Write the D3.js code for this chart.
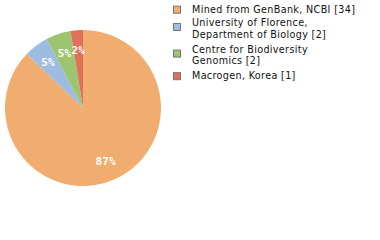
<!DOCTYPE html>
<html>
<head>
<meta charset="utf-8">
<script src="https://cdn.jsdelivr.net/npm/d3@7"></script>
<style>
    body { margin: 0; background: #fff; }
    svg { display: block; }
</style>
</head>
<body>
<div id="chart"></div>
<script>
(function()
{
    "use strict";

    // data
    var labels = [
        ["Mined from GenBank, NCBI [34]"],
        ["University of Florence,", "Department of Biology [2]"],
        ["Centre for Biodiversity", "Genomics [2]"],
        ["Macrogen, Korea [1]"]
    ];
    var counts = [34, 2, 2, 1];
    var colors = ["#f0ad6f", "#9dbce0", "#9dc46f", "#e0705a"];

    var width = 380, height = 240;
    var cx = 83, cy = 108, radius = 78;

    var svg = d3.select("#chart")
                .append("svg")
                .attr("width", width)
                .attr("height", height);

    // #####################################################################
    var pie = d3.pie().sort(null).value((d) => d);
    var arcs = pie(counts);
    var total = d3.sum(counts);

    var arc = d3.arc().innerRadius(0).outerRadius(radius);
    var labelArc = d3.arc().innerRadius(radius * 0.745).outerRadius(radius * 0.745);

    var g = svg.append("g").attr("transform", `translate(${cx},${cy})`);

    g.selectAll("path")
     .data(arcs)
     .enter()
     .append("path")
     .attr("d", arc)
     .attr("fill", (d, i) => colors[i]);

    // percentages are truncated, not rounded (1/39 shows as 2%)
    g.selectAll("text")
     .data(arcs)
     .enter()
     .append("text")
     .attr("transform", (d) => `translate(${labelArc.centroid(d)})`)
     .attr("text-anchor", "middle")
     .attr("dy", "0.36em")
     .attr("fill", "#fff")
     .style("font-family", "DejaVu Sans Mono")
     .style("font-size", "11px")
     .style("font-weight", "bold")
     .style("letter-spacing", "0.3px")
     .text((d) => Math.floor(d.value / total * 100) + "%");
    // #####################################################################

    // legend
    // #####################################################################
    var lineH = 11.5, entryH = 13.3;
    var y = 9.3;
    var legend = svg.append("g");

    labels.forEach(function(lines, i) {
        var sy = y + (lines.length - 1) * 4 + 0.4;

        legend.append("rect")
              .attr("x", 173.5)
              .attr("y", sy - 3.5)
              .attr("width", 7)
              .attr("height", 7)
              .attr("fill", colors[i])
              .attr("stroke", "#777")
              .attr("stroke-width", 1);

        var t = legend.append("text")
                      .attr("x", 192)
                      .attr("y", y)
                      .attr("fill", "#111")
                      .style("font-family", "DejaVu Sans")
                      .style("font-size", "9.6px")
                      .style("letter-spacing", "0.35px");

        lines.forEach(function(line, j) {
            t.append("tspan")
             .attr("x", 192)
             .attr("dy", j === 0 ? "0.36em" : lineH)
             .text(line);
        });

        y += lines.length * entryH;
    });
    // #####################################################################
}
)();
</script>
</body>
</html>
